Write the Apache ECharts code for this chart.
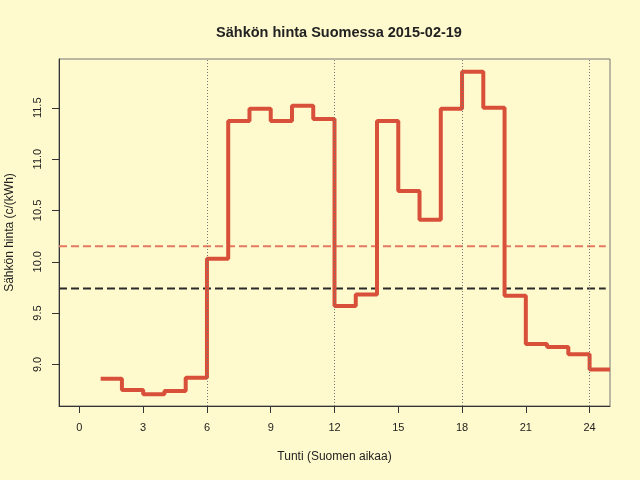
<!DOCTYPE html>
<html>
<head>
<meta charset="utf-8">
<script src="https://cdn.jsdelivr.net/npm/echarts@6/dist/echarts.min.js"></script>
<style>
  html, body { margin: 0; padding: 0; background: #FFFACD; }
  #chart { width: 640px; height: 480px; }
</style>
</head>
<body>
<div id="chart"></div>
<script>
// hourly prices, hour h covers [h, h+1]
const hours = [1, 2, 3, 4, 5, 6, 7, 8, 9, 10, 11, 12, 13, 14, 15, 16, 17, 18, 19, 20, 21, 22, 23, 24];
const prices = [8.86, 8.75, 8.71, 8.74, 8.87, 10.03, 11.37, 11.49, 11.37, 11.52, 11.39, 9.57,
  9.68, 11.37, 10.69, 10.41, 11.49, 11.85, 11.50, 9.67, 9.20, 9.17, 9.10, 8.95];
const xTicks = [0, 3, 6, 9, 12, 15, 18, 21, 24];
const yTicks = [9.0, 9.5, 10.0, 10.5, 11.0, 11.5];
const dayLines = [6, 12, 18, 24];
const meanPrice = 10.15;
const refPrice = 9.74;

const xMin = -0.96, xMax = 24.96;
const yMin = 8.595, yMax = 11.975;

let chart = echarts.init(document.getElementById('chart'));

// step line: last hour runs on to the edge of the plot
let stepData = hours.map((h, i) => [h, prices[i]]);
stepData.push([xMax, prices[prices.length - 1]]);

let font = 'Liberation Sans, Arial, sans-serif';

// horizontal reference line as its own small series
function hLine(y, color) {
  return {
    type: 'line',
    data: [[xMin, y], [xMax - 0.2, y]],
    symbol: 'none',
    silent: true,
    z: 1,
    lineStyle: { color: color, type: [8, 4], width: 2 }
  };
}

let option = {
  backgroundColor: '#FFFACD',
  animation: false,
  title: {
    text: 'Sähkön hinta Suomessa 2015-02-19',
    left: 334,
    top: 20,
    textAlign: 'center',
    textStyle: { fontFamily: font, fontSize: 14.5, fontWeight: 'bold', color: '#222' }
  },
  grid: {
    left: 59, right: 30, top: 59, bottom: 74,
    outerBoundsMode: 'none',
    containLabel: false,
    show: true, borderColor: '#777', borderWidth: 1, backgroundColor: 'transparent'
  },
  xAxis: {
    type: 'value',
    min: xMin,
    max: xMax,
    name: 'Tunti (Suomen aikaa)',
    nameLocation: 'middle',
    nameGap: 45,
    nameTextStyle: { fontFamily: font, fontSize: 12, color: '#222' },
    axisLine: { show: true, onZero: false, lineStyle: { color: '#333', width: 1 } },
    axisTick: { show: true, length: 7, customValues: xTicks, lineStyle: { color: '#333' } },
    axisLabel: { customValues: xTicks, margin: 16, fontFamily: font, fontSize: 11, color: '#222' },
    splitLine: { show: false }
  },
  yAxis: {
    type: 'value',
    min: yMin,
    max: yMax,
    name: 'Sähkön hinta (c/(kWh)',
    nameLocation: 'middle',
    nameRotate: 90,
    nameGap: 43,
    nameTextStyle: { fontFamily: font, fontSize: 12, color: '#222' },
    axisLine: { show: true, onZero: false, lineStyle: { color: '#333', width: 1 } },
    axisTick: { show: true, length: 7, customValues: yTicks, lineStyle: { color: '#333' } },
    axisLabel: {
      customValues: yTicks,
      rotate: 90,
      margin: 16,
      fontFamily: font,
      fontSize: 11,
      color: '#222',
      formatter: (v) => v.toFixed(1)
    },
    splitLine: { show: false }
  },
  series: [
    hLine(meanPrice, '#E57A62'),
    hLine(refPrice, '#2a2a2a'),
    {
      type: 'line',
      step: 'end',
      data: stepData,
      symbol: 'none',
      z: 3,
      lineStyle: { color: '#D9503A', width: 4 },
      markLine: {
        silent: true,
        symbol: 'none',
        label: { show: false },
        data: dayLines.map((d) => ({ xAxis: d, lineStyle: { color: '#777', type: [1, 2], width: 1 } }))
      }
    }
  ]
};

chart.setOption(option);
</script>
</body>
</html>
